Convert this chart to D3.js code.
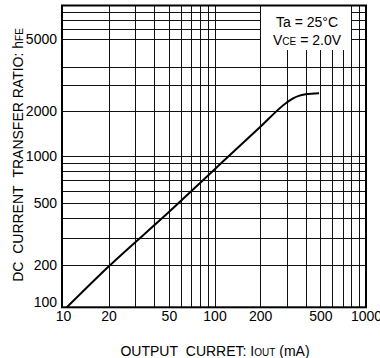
<!DOCTYPE html>
<html>
<head>
<meta charset="utf-8">
<script src="https://cdn.jsdelivr.net/npm/d3@7"></script>
<style>
  body { margin: 0; background: #fff; }
  svg text { font-family: "Liberation Sans", Arial, sans-serif; fill: #000; }
</style>
</head>
<body>
<svg id="chart" width="380" height="358"></svg>
<script>
// values
var currentMA = [10.6, 20, 50, 100, 200, 300, 330, 360, 400, 490];
var hfe       = [100, 195, 437, 820, 1568, 2296, 2447, 2543, 2606, 2650];

var xTicks = [10, 20, 50, 100, 200, 500, 1000];
var yTicks = [100, 200, 500, 1000, 2000, 5000];
var xGrid = [20, 30, 40, 50, 60, 70, 80, 90, 100, 200, 300, 400, 500, 600, 700, 800, 900];
var yGrid = [200, 300, 400, 500, 600, 700, 800, 900, 1000, 2000, 3000, 4000, 5000, 6000, 7000, 8000];

var svg = d3.select("#chart");
var plotL = 62, plotR = 366, plotT = 5.5, plotB = 307.3;

var x = d3.scaleLog().domain([10, 1000]).range([63, plotR]);
// the printed grid is not an even log scale, so anchor it at several lines
var y = d3.scaleLog()
  .domain([100, 200, 1000, 4000, 5000, 8000, 10000])
  .range([plotB, 265, 156, 66.7, 39, 12.3, plotT]);

var g = svg.append("g");

// grid
g.selectAll(".vg").data(xGrid).enter().append("line")
  .attr("x1", function(d) { return Math.round(x(d)) + 0.5; })
  .attr("x2", function(d) { return Math.round(x(d)) + 0.5; })
  .attr("y1", plotT).attr("y2", plotB)
  .style("stroke", "#111").style("stroke-width", 1);

g.selectAll(".hg").data(yGrid).enter().append("line")
  .attr("x1", plotL).attr("x2", plotR)
  .attr("y1", function(d) { return Math.round(y(d)) + 0.5; })
  .attr("y2", function(d) { return Math.round(y(d)) + 0.5; })
  .style("stroke", "#111").style("stroke-width", 1);

// legend box blanks out the grid behind it
g.append("rect")
  .attr("x", Math.round(x(200)) + 1)
  .attr("y", plotT)
  .attr("width", Math.round(x(800)) - Math.round(x(200)) - 1)
  .attr("height", 50 - plotT)
  .style("fill", "#fff");

// curve
var line = d3.line()
  .x(function(d) { return x(d[0]); })
  .y(function(d) { return y(d[1]); })
  .curve(d3.curveMonotoneX);

g.append("path")
  .datum(d3.zip(currentMA, hfe))
  .attr("d", line)
  .style("fill", "none")
  .style("stroke", "#000")
  .style("stroke-width", 2);

// frame
g.append("rect")
  .attr("x", plotL).attr("y", plotT)
  .attr("width", plotR - plotL).attr("height", plotB - plotT)
  .style("fill", "none").style("stroke", "#000").style("stroke-width", 2);

// tick labels
var xAxis = svg.append("g")
  .attr("transform", "translate(0," + plotB + ")")
  .call(d3.axisBottom(x).tickValues(xTicks).tickFormat(d3.format("d")).tickSize(0).tickPadding(4));
var yAxis = svg.append("g")
  .attr("transform", "translate(" + plotL + ",0)")
  .call(d3.axisLeft(y).tickValues(yTicks).tickFormat(d3.format("d")).tickSize(0).tickPadding(5));

[xAxis, yAxis].forEach(function(a) {
  a.select(".domain").remove();
  a.selectAll("text").style("font-size", "14px").style("font-family", null);
});
yAxis.selectAll(".tick text").filter(function(d) { return d === 100; }).attr("dy", "-0.05em");

// legend text
var leg = svg.append("g").style("font-size", "14px");
leg.append("text").attr("x", 276).attr("y", 26.5).text("Ta = 25\u00b0C");
var v = leg.append("text").attr("x", 273).attr("y", 44.5);
v.append("tspan").text("V");
v.append("tspan").style("font-size", "10px").text("CE");
v.append("tspan").text(" = 2.0V");

// axis titles
var yt = svg.append("text")
  .attr("transform", "translate(23,155) rotate(-90)")
  .attr("text-anchor", "middle")
  .style("font-size", "14px");
yt.append("tspan").text("DC\u00a0\u00a0CURRENT\u00a0\u00a0TRANSFER RATIO: h");
yt.append("tspan").style("font-size", "10px").text("FE");

var xt = svg.append("text")
  .attr("x", 215).attr("y", 356)
  .attr("text-anchor", "middle")
  .style("font-size", "14px");
xt.append("tspan").text("OUTPUT\u00a0\u00a0CURRET: I");
xt.append("tspan").style("font-size", "10px").text("OUT");
xt.append("tspan").text(" (mA)");
</script>
</body>
</html>
